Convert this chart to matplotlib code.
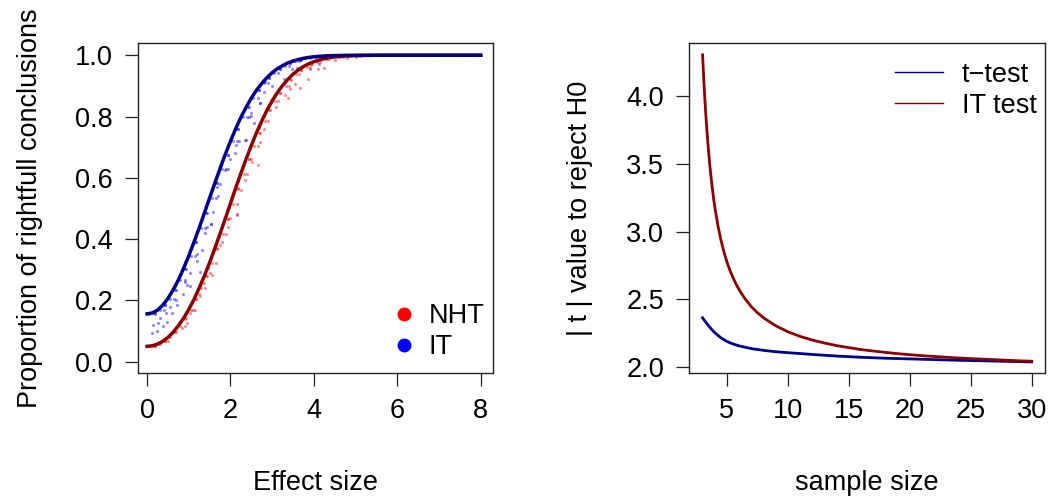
import matplotlib
matplotlib.use("Agg")
import matplotlib.pyplot as plt
from matplotlib.lines import Line2D

plt.rcParams['font.family'] = ['Liberation Sans', 'DejaVu Sans']
plt.rcParams['font.size'] = 19.5

# ---- left panel: proportion of rightfull conclusions vs effect size ----
effect = [0, 0.125, 0.25, 0.375, 0.5, 0.625, 0.75, 0.875, 1.0, 1.125, 1.25, 1.375,
          1.5, 1.625, 1.75, 1.875, 2.0, 2.125, 2.25, 2.375, 2.5, 2.625, 2.75, 2.875,
          3.0, 3.125, 3.25, 3.375, 3.5, 3.625, 3.75, 3.875, 4.0, 4.25, 4.5, 4.75,
          5.0, 5.5, 6.0, 7.0, 8.0]
nht_curve = [0.05, 0.0518, 0.057, 0.0663, 0.079, 0.0958, 0.117, 0.1413, 0.170,
             0.2029, 0.240, 0.2797, 0.323, 0.369, 0.417, 0.466, 0.516, 0.566, 0.614,
             0.661, 0.705, 0.747, 0.785, 0.820, 0.851, 0.878, 0.901, 0.921, 0.938,
             0.952, 0.963, 0.972, 0.979, 0.989, 0.9945, 0.9974, 0.9988, 0.9998,
             1.0, 1.0, 1.0]
it_curve = [0.156, 0.159, 0.168, 0.184, 0.206, 0.234, 0.266, 0.304, 0.345, 0.390,
            0.436, 0.485, 0.534, 0.582, 0.630, 0.676, 0.719, 0.760, 0.797, 0.830,
            0.860, 0.886, 0.908, 0.927, 0.943, 0.956, 0.966, 0.975, 0.981, 0.986,
            0.990, 0.993, 0.995, 0.9977, 0.999, 0.9996, 1.0, 1.0, 1.0, 1.0, 1.0]

nht_x = [0.05, 0.15, 0.3, 0.42, 0.55, 0.68, 0.8, 0.92, 1.05, 1.18, 1.3, 1.42, 1.56,
         1.68, 1.82, 1.94, 2.07, 2.19, 2.32, 2.44, 2.57, 2.7, 2.83, 2.95, 3.08, 3.2,
         3.33, 3.45, 3.58, 3.7, 3.83, 3.95, 4.08, 4.3, 4.6, 5.1, 5.6, 6.2, 6.8, 7.4, 8.0,
         0.2, 0.5, 0.9, 1.15, 1.4, 1.65, 1.9, 2.15, 2.4, 2.65, 2.9, 3.15, 3.4, 3.65,
         3.9, 4.15, 4.7,
         0.185, 0.435, 0.685, 0.935, 1.185, 1.435, 1.685, 1.935, 2.185, 2.435, 2.685,
         2.935, 3.185, 3.435, 3.685, 3.935, 4.35, 4.85,
         1.5, 1.75, 2.0, 2.25, 2.5, 2.8, 3.3, 1.25, 0.95,
         2.16, 1.555, 1.37, 1.26, 1.03, 1.47, 2.65, 2.52, 2.72, 2.68, 2.36, 2.16,
         4.24, 4.09, 3.85, 3.68, 3.37, 3.42, 4.52, 1.1, 0.85, 1.8, 1.95, 3.1, 3.55,
         4.8, 5.0]
nht_y = [0.050, 0.052, 0.057, 0.066, 0.079, 0.096, 0.117, 0.140, 0.170, 0.205, 0.240,
         0.280, 0.323, 0.370, 0.417, 0.465, 0.516, 0.565, 0.614, 0.660, 0.705, 0.745,
         0.785, 0.820, 0.851, 0.878, 0.901, 0.920, 0.938, 0.952, 0.963, 0.972, 0.979,
         0.988, 0.9945, 0.9988, 0.9998, 1.0, 1.0, 1.0, 1.0,
         0.050, 0.066, 0.117, 0.170, 0.240, 0.323, 0.417, 0.516, 0.614, 0.705, 0.785,
         0.851, 0.901, 0.938, 0.963, 0.979, 0.993,
         0.052, 0.066, 0.096, 0.141, 0.203, 0.280, 0.369, 0.466, 0.566, 0.661, 0.747,
         0.820, 0.878, 0.921, 0.952, 0.972, 0.989, 0.997,
         0.29, 0.38, 0.47, 0.56, 0.66, 0.76, 0.87, 0.22, 0.125,
         0.481, 0.283, 0.256, 0.213, 0.158, 0.305, 0.642, 0.65, 0.718, 0.761, 0.593,
         0.479, 0.959, 0.954, 0.921, 0.894, 0.86, 0.89, 0.984, 0.17, 0.11, 0.39, 0.44,
         0.83, 0.905, 0.99, 0.995]

it_x = [0.05, 0.15, 0.3, 0.42, 0.55, 0.68, 0.8, 0.92, 1.05, 1.18, 1.3, 1.42, 1.55,
        1.68, 1.8, 1.93, 2.05, 2.18, 2.3, 2.43, 2.55, 2.68, 2.8, 2.93, 3.05, 3.18, 3.3,
        3.43, 3.55, 3.68, 3.8, 4.05, 4.3, 4.55, 5.0, 5.6, 6.3, 7.0, 7.6, 8.0,
        0.2, 0.4, 0.65, 0.9, 1.15, 1.4, 1.65, 1.9, 2.15, 2.4, 2.65, 2.9, 3.15, 3.4,
        3.65, 3.9,
        0.185, 0.435, 0.685, 0.935, 1.185, 1.435, 1.685, 1.935, 2.185, 2.435, 2.685,
        2.935, 3.185, 3.435, 3.685, 3.935, 4.35, 4.85,
        1.45, 1.7, 1.95, 2.2, 2.5, 2.8, 1.2, 0.9, 0.7, 0.45,
        0.11, 0.23, 0.27, 0.39, 0.47, 0.31, 0.55, 0.71, 0.86, 1.03, 1.02, 1.26, 1.31,
        1.39, 1.53, 2.49, 2.72, 2.56, 2.37, 2.14, 2.12, 1.875, 1.67, 1.59, 1.54, 4.12,
        3.92, 3.48, 3.28, 2.84, 2.72, 2.44, 2.36, 0.15, 0.6, 0.95, 1.2, 1.75, 2.0, 3.0,
        3.6]
it_y = [0.156, 0.160, 0.168, 0.185, 0.206, 0.234, 0.266, 0.303, 0.345, 0.390, 0.436,
        0.485, 0.534, 0.582, 0.630, 0.676, 0.719, 0.760, 0.797, 0.830, 0.860, 0.886,
        0.908, 0.927, 0.943, 0.956, 0.966, 0.974, 0.981, 0.986, 0.990, 0.995, 0.997,
        0.999, 1.0, 1.0, 1.0, 1.0, 1.0, 1.0,
        0.156, 0.168, 0.206, 0.266, 0.345, 0.436, 0.534, 0.630, 0.719, 0.797, 0.860,
        0.908, 0.943, 0.966, 0.981, 0.990,
        0.159, 0.184, 0.234, 0.304, 0.390, 0.485, 0.582, 0.676, 0.760, 0.830, 0.886,
        0.927, 0.956, 0.975, 0.986, 0.993, 0.998, 0.9996,
        0.44, 0.54, 0.63, 0.72, 0.81, 0.88, 0.35, 0.26, 0.20, 0.16,
        0.093, 0.099, 0.126, 0.115, 0.131, 0.142, 0.18, 0.186, 0.221, 0.248, 0.289,
        0.294, 0.365, 0.419, 0.45, 0.801, 0.845, 0.78, 0.725, 0.707, 0.68, 0.625,
        0.569, 0.49, 0.45, 0.973, 0.954, 0.954, 0.924, 0.913, 0.843, 0.80, 0.725,
        0.12, 0.16, 0.25, 0.33, 0.58, 0.66, 0.90, 0.96]

# ---- right panel: critical |t| vs sample size ----
n_it = [3, 3.05, 3.1, 3.15, 3.2, 3.25, 3.3, 3.4, 3.5, 3.6, 3.75, 3.9, 4, 4.25, 4.5,
        4.75, 5, 5.25, 5.5, 5.75, 6, 6.5, 7, 7.5, 8, 9, 10, 11, 12, 13, 14, 15, 16,
        17, 18, 19, 20, 21, 22, 23, 24, 25, 26, 27, 28, 29, 30]
t_it = [4.303, 4.207, 4.118, 4.034, 3.956, 3.883, 3.815, 3.691, 3.581, 3.483, 3.357,
        3.246, 3.182, 3.049, 2.94, 2.851, 2.776, 2.713, 2.660, 2.613, 2.571, 2.503,
        2.447, 2.402, 2.365, 2.306, 2.262, 2.228, 2.201, 2.179, 2.160, 2.145, 2.131,
        2.120, 2.110, 2.101, 2.093, 2.086, 2.080, 2.074, 2.069, 2.064, 2.060, 2.056,
        2.052, 2.048, 2.045]
n_t = [3, 3.25, 3.5, 3.75, 4, 4.5, 5, 5.5, 6, 7, 8, 9, 10, 12, 14, 16, 18, 20, 22,
       24, 26, 28, 30]
t_t = [2.365, 2.334, 2.305, 2.279, 2.255, 2.218, 2.19, 2.172, 2.158, 2.138, 2.125,
       2.115, 2.108, 2.095, 2.083, 2.074, 2.067, 2.062, 2.057, 2.052, 2.048, 2.044,
       2.040]

fig = plt.figure(figsize=(10.54, 5), dpi=100)
ax1 = fig.add_axes([137.7 / 1054, 1 - 373.3 / 500, 355.6 / 1054, 330 / 500])
ax2 = fig.add_axes([689.3 / 1054, 1 - 373.3 / 500, 355.2 / 1054, 330 / 500])

ax1.scatter(nht_x, nht_y, s=5, color='red', alpha=0.45, linewidths=0)
ax1.scatter(it_x, it_y, s=5, color='blue', alpha=0.45, linewidths=0)
ax1.plot(effect, nht_curve, color='#8B0000', lw=2.5)
ax1.plot(effect, it_curve, color='#00008B', lw=2.5)
ax1.set_xlim(-0.224, 8.305)
ax1.set_ylim(-0.038, 1.039)
ax1.set_xticks([0, 2, 4, 6, 8])
ax1.set_yticks([0, 0.2, 0.4, 0.6, 0.8, 1.0])
ax1.set_yticklabels(['0.0', '0.2', '0.4', '0.6', '0.8', '1.0'])
ax1.set_xlabel('Effect size', va='center')
ax1.xaxis.set_label_coords(0.5, -0.332)
ax1.set_ylabel('Proportion of rightfull conclusions', va='center')
ax1.yaxis.set_label_coords(-0.303, 0.5)
h1 = [Line2D([], [], ls='none', marker='o', ms=9, color='red'),
      Line2D([], [], ls='none', marker='o', ms=9, color='blue')]
ax1.legend(h1, ['NHT', 'IT'], loc='lower right', frameon=False,
           bbox_to_anchor=(1.013, -0.002), borderpad=0, handlelength=1.0,
           handletextpad=0.4, labelspacing=0.2)

ax2.plot(n_t, t_t, color='#00008B', lw=2.0)
ax2.plot(n_it, t_it, color='#8B0000', lw=2.0)
ax2.set_xlim(1.91, 31.05)
ax2.set_ylim(1.956, 4.388)
ax2.set_xticks([5, 10, 15, 20, 25, 30])
ax2.set_yticks([2.0, 2.5, 3.0, 3.5, 4.0])
ax2.set_yticklabels(['2.0', '2.5', '3.0', '3.5', '4.0'])
ax2.set_xlabel('sample size', va='center')
ax2.xaxis.set_label_coords(0.5, -0.332)
ax2.set_ylabel('| t | value to reject H0', va='center')
ax2.yaxis.set_label_coords(-0.308, 0.5)
h2 = [Line2D([], [], color='#00008B', lw=1.0), Line2D([], [], color='#8B0000', lw=1.0)]
ax2.legend(h2, ['t\u2212test', 'IT test'], loc='upper right', frameon=False,
           bbox_to_anchor=(1.016, 0.985), borderpad=0, handlelength=1.8,
           handletextpad=0.68, labelspacing=0.18)

for ax in (ax1, ax2):
    for sp in ax.spines.values():
        sp.set_linewidth(1.0)
        sp.set_color('#222222')
    ax.tick_params(direction='out', length=9.1, width=0.9, pad=9.0, color='#222222')

fig.savefig('out.png', dpi=100)
